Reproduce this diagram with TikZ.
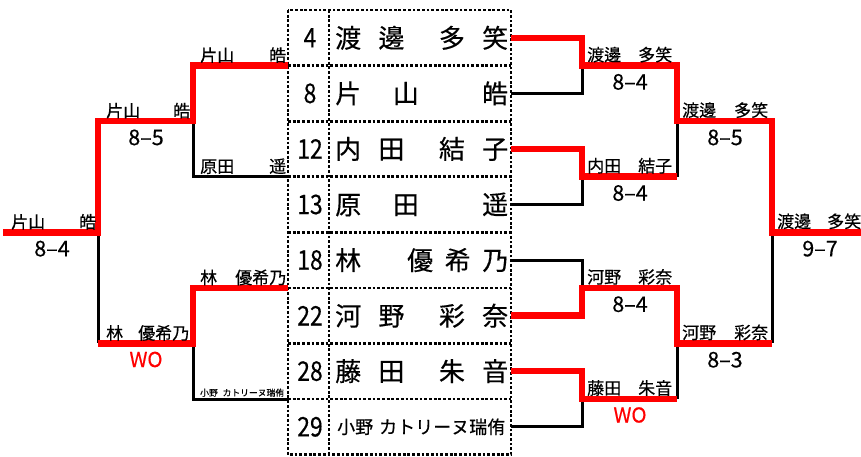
\documentclass[tikz,border=0pt]{standalone}
\usepackage{fontspec}
\setmainfont{Noto Sans CJK JP}[FakeBold=0.4]
\usepackage{graphicx}
\definecolor{wred}{RGB}{255,0,0}
\begin{document}
\begin{tikzpicture}[x=1pt,y=-1pt,
  blk/.style={line width=3pt,black},
  win/.style={line width=6.5pt,wred},
  gridline/.style={line width=2.8pt,dash pattern=on 2.8pt off 1.9pt},
  seed/.style={font=\fontsize{27}{30}\selectfont,inner sep=0},
  pname/.style={font=\fontsize{26}{30}\selectfont,inner sep=0,anchor=west},
  lab/.style={font=\fontsize{17}{20}\selectfont,inner sep=0,anchor=base west},
  tinylab/.style={font=\fontsize{8.8}{10}\selectfont,inner sep=0,anchor=base west},
  score/.style={font=\fontsize{21.5}{24}\selectfont,inner sep=0,anchor=base},
  wo/.style={font=\fontsize{20.5}{24}\selectfont,inner sep=0,anchor=base,text=wred}]
\useasboundingbox (0,0) rectangle (861,456);

% table
\draw[gridline] (288,10) rectangle (511,454.6);
\draw[gridline] (329,10) -- (329,454.6);
\foreach \yy in {65.6,121.1,176.7,232.3,287.9,343.4,399.0}
  \draw[gridline] (288,\yy) -- (511,\yy);

% seeds
\node[seed] (s1) at (310,37.8) {\scalebox{0.85}[1]{4}};
\node[seed] (s2) at (310,93.4) {\scalebox{0.85}[1]{8}};
\node[seed] (s3) at (310,148.9) {\scalebox{0.85}[1]{12}};
\node[seed] (s4) at (310,204.5) {\scalebox{0.85}[1]{13}};
\node[seed] (s5) at (310,260.1) {\scalebox{0.85}[1]{18}};
\node[seed] (s6) at (310,315.7) {\scalebox{0.85}[1]{22}};
\node[seed] (s7) at (310,371.2) {\scalebox{0.85}[1]{28}};
\node[seed] (s8) at (310,426.8) {\scalebox{0.85}[1]{29}};

% names
\node[pname] (n1) at (335,37.8) {\makebox[173pt]{渡\hfill 邊\hfill\hfill 多\hfill 笑}};
\node[pname] (n2) at (335,93.4) {\makebox[173pt]{片\hfill 山\hfill\hfill 皓}};
\node[pname] (n3) at (335,148.9) {\makebox[173pt]{内\hfill 田\hfill\hfill 結\hfill 子}};
\node[pname] (n4) at (335,204.5) {\makebox[173pt]{原\hfill 田\hfill\hfill 遥}};
\node[pname] (n5) at (335,260.1) {\makebox[173pt]{林\hfill\hfill\hfill\hfill 優\hfill 希\hfill 乃}};
\node[pname] (n6) at (335,315.7) {\makebox[173pt]{河\hfill 野\hfill\hfill 彩\hfill 奈}};
\node[pname] (n7) at (335,371.2) {\makebox[173pt]{藤\hfill 田\hfill\hfill 朱\hfill 音}};
\node[pname,font=\fontsize{18}{20}\selectfont] (n8) at (337,426.8) {\makebox[168pt]{小野\hfill カトリーヌ瑞侑}};

% coordinates
\coordinate (L2) at (288,65.6);
\coordinate (L4) at (288,176.7);
\coordinate (L5) at (288,287.9);
\coordinate (L8) at (288,399.0);
\coordinate (LA) at (193,121.1);
\coordinate (LB) at (193,343.4);
\coordinate (LC) at (98,232.3);
\coordinate (LF) at (3,232.3);
\coordinate (R1) at (511,37.8);
\coordinate (R2) at (511,93.4);
\coordinate (R3) at (511,148.9);
\coordinate (R4) at (511,204.5);
\coordinate (R5) at (511,260.1);
\coordinate (R6) at (511,315.7);
\coordinate (R7) at (511,371.2);
\coordinate (R8) at (511,426.8);
\coordinate (RA) at (582,65.6);
\coordinate (RB) at (582,176.7);
\coordinate (RC) at (582,287.9);
\coordinate (RD) at (582,399.0);
\coordinate (RE) at (677,121.1);
\coordinate (RF) at (677,343.4);
\coordinate (RG) at (772,232.3);
\coordinate (RZ) at (861,232.3);

% losers (black)
\draw[blk] (L4) -| (LA);
\draw[blk] (L8) -| (LB);
\draw[blk] (LC) -- (LC |- LB);
\draw[blk] (R2) -| (RA);
\draw[blk] (R4) -| (RB);
\draw[blk] (R5) -| (RC);
\draw[blk] (R8) -| (RD);
\draw[blk] (RE) -- (RE |- RB);
\draw[blk] (RF) -- (RF |- RD);
\draw[blk] (RG) -- (RG |- RF);

% winners (red)
\draw[win] (L2) -| (LA) -| (LC) -- (LF);
\draw[win] (L5) -| (LB) -- (LB -| LC);
\draw[win] (R1) -| (RA) -| (RE) -| (RG) -- (RZ);
\draw[win] (R3) -| (RB) -- (RB -| RE);
\draw[win] (R6) -| (RC) -| (RF) -- (RF -| RG);
\draw[win] (R7) -| (RD) -- (RD -| RE);

% left labels
\node[lab] (la1) at (200,61.6) {\makebox[86pt]{片山\hfill 皓}};
\node[lab] (la2) at (200,172.7) {\makebox[86pt]{原田\hfill 遥}};
\node[lab] (la3) at (106,117.1) {\makebox[84pt]{片山\hfill 皓}};
\node[lab] (la4) at (11,228.3) {\makebox[85pt]{片山\hfill 皓}};
\node[lab] (la5) at (200,283.9) {\makebox[86pt]{林\hfill 優希乃}};
\node[tinylab] (la6) at (200,396) {\makebox[84pt]{小野\hfill カトリーヌ瑞侑}};
\node[lab] (la7) at (106,339.4) {\makebox[83pt]{林\hfill 優希乃}};
\node[score] (ls1) at (146,145.1) {8–5};
\node[score] (ls2) at (52,256.3) {8–4};
\node[wo] (ls3) at (146,367) {WO};

% right labels
\node[lab] (ra1) at (587,61.1) {\makebox[85pt]{渡邊\hfill 多笑}};
\node[lab] (ra2) at (587,172.2) {\makebox[85pt]{内田\hfill 結子}};
\node[lab] (ra3) at (682,116.6) {\makebox[86pt]{渡邊\hfill 多笑}};
\node[lab] (ra4) at (777,227.8) {\makebox[84pt]{渡邊\hfill 多笑}};
\node[lab] (ra5) at (587,283.4) {\makebox[85pt]{河野\hfill 彩奈}};
\node[lab] (ra6) at (587,394.5) {\makebox[85pt]{藤田\hfill 朱音}};
\node[lab] (ra7) at (682,338.9) {\makebox[86pt]{河野\hfill 彩奈}};
\node[score] (rs1) at (630,89.6) {8–4};
\node[score] (rs2) at (630,200.7) {8–4};
\node[score] (rs3) at (725,145.1) {8–5};
\node[score] (rs4) at (820,256.3) {9–7};
\node[score] (rs5) at (630,311.9) {8–4};
\node[score] (rs6) at (725,367.4) {8–3};
\node[wo] (rs7) at (630,422.5) {WO};
\end{tikzpicture}
\end{document}
